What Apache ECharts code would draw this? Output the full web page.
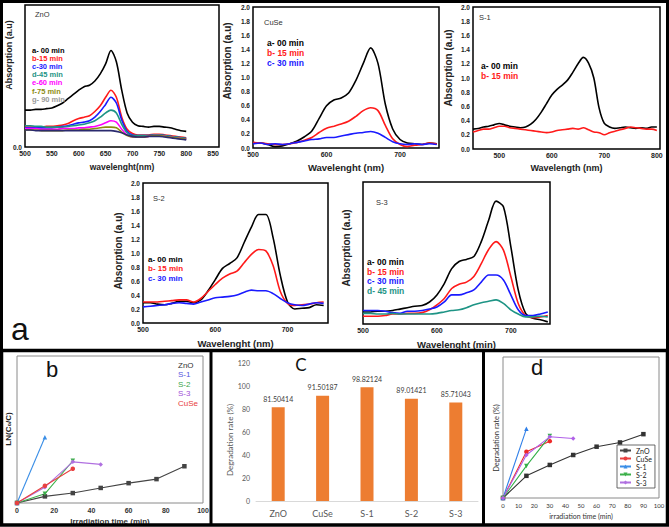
<!DOCTYPE html>
<html><head><meta charset="utf-8">
<script src="https://cdn.jsdelivr.net/npm/echarts@6/dist/echarts.min.js"></script>
<style>html,body{margin:0;padding:0;background:#fff}#c{width:669px;height:527px}</style>
</head><body><div id="c"></div>
<script>
// ---------- DATA ----------
const wl500_800 = [500,510,520,530,540,550,560,570,580,590,600,610,620,630,640,650,660,670,680,690,700,710,720,730,740,750,760,770,780,790,800];
const wl500_750 = [500,510,520,530,540,550,560,570,580,590,600,610,620,630,640,650,660,670,680,690,700,710,720,730,740,750];
const wl450_800 = [450,460,470,480,490,500,510,520,530,540,550,560,570,580,590,600,610,620,630,640,650,660,670,680,690,700,710,720,730,740,750,760,770,780,790,800];

const spectraLabels = ['a- 00 min','b-15 min','c-30 min','d-45 min','e-60 min','f-75 min','g- 90 min'];
const znoA = [0.52,0.52,0.53,0.53,0.54,0.55,0.58,0.62,0.68,0.74,0.80,0.85,0.87,0.93,1.03,1.17,1.36,1.20,0.80,0.48,0.35,0.30,0.29,0.28,0.29,0.29,0.28,0.27,0.25,0.23,0.22];
const znoB = [0.28,0.28,0.28,0.28,0.29,0.29,0.30,0.31,0.33,0.37,0.40,0.42,0.44,0.50,0.58,0.70,0.80,0.70,0.42,0.25,0.19,0.17,0.17,0.17,0.18,0.18,0.17,0.16,0.15,0.14,0.13];
const znoC = [0.27,0.27,0.27,0.27,0.27,0.27,0.28,0.29,0.30,0.32,0.34,0.35,0.37,0.42,0.50,0.60,0.70,0.62,0.38,0.22,0.17,0.16,0.16,0.16,0.17,0.17,0.16,0.15,0.14,0.13,0.12];
const znoD = [0.30,0.30,0.29,0.29,0.28,0.28,0.28,0.28,0.29,0.30,0.31,0.32,0.34,0.37,0.42,0.48,0.52,0.48,0.32,0.20,0.16,0.16,0.16,0.16,0.17,0.17,0.16,0.15,0.14,0.13,0.12];
const znoE = [0.26,0.26,0.26,0.25,0.25,0.25,0.25,0.26,0.26,0.26,0.27,0.27,0.28,0.29,0.31,0.34,0.37,0.35,0.25,0.17,0.14,0.14,0.14,0.15,0.16,0.16,0.15,0.14,0.13,0.12,0.11];
const znoF = [0.24,0.24,0.24,0.23,0.23,0.23,0.23,0.23,0.24,0.24,0.24,0.25,0.25,0.26,0.27,0.28,0.28,0.27,0.21,0.16,0.14,0.14,0.14,0.15,0.16,0.16,0.15,0.14,0.13,0.12,0.11];
const znoG = [0.24,0.24,0.23,0.23,0.23,0.23,0.23,0.23,0.23,0.23,0.23,0.23,0.23,0.23,0.23,0.23,0.23,0.22,0.20,0.17,0.15,0.14,0.14,0.15,0.15,0.15,0.14,0.13,0.12,0.11,0.10];

const cuseA = [0.07,0.07,0.05,0.02,0.03,0.06,0.10,0.16,0.24,0.42,0.60,0.68,0.71,0.78,0.96,1.20,1.42,1.20,0.62,0.27,0.12,0.07,0.06,0.05,0.07,0.06];
const cuseB = [0.08,0.07,0.06,0.05,0.05,0.06,0.08,0.11,0.15,0.22,0.28,0.31,0.34,0.38,0.45,0.53,0.57,0.53,0.32,0.13,0.05,0.02,0.04,0.05,0.07,0.06];
const cuseC = [0.06,0.07,0.05,0.06,0.05,0.06,0.08,0.10,0.12,0.13,0.15,0.15,0.17,0.19,0.21,0.22,0.235,0.21,0.15,0.09,0.06,0.05,0.06,0.05,0.06,0.05];

const s1A = [0.28,0.29,0.31,0.32,0.34,0.36,0.34,0.32,0.31,0.30,0.31,0.35,0.42,0.52,0.64,0.76,0.84,0.90,0.97,1.08,1.20,1.29,1.21,1.00,0.58,0.36,0.31,0.29,0.30,0.31,0.30,0.29,0.30,0.29,0.31,0.31];
const s1B = [0.24,0.26,0.28,0.28,0.30,0.32,0.32,0.30,0.29,0.28,0.27,0.26,0.25,0.24,0.23,0.24,0.26,0.27,0.28,0.29,0.28,0.30,0.27,0.24,0.23,0.20,0.23,0.25,0.27,0.29,0.31,0.30,0.29,0.28,0.28,0.26];

const s2A = [0.29,0.29,0.27,0.26,0.28,0.31,0.31,0.29,0.33,0.46,0.62,0.78,0.85,0.93,1.15,1.37,1.55,1.55,1.22,0.68,0.30,0.20,0.21,0.22,0.26,0.25];
const s2B = [0.30,0.30,0.30,0.31,0.32,0.33,0.33,0.30,0.35,0.45,0.55,0.64,0.70,0.74,0.86,0.98,1.05,1.03,0.82,0.45,0.28,0.25,0.26,0.27,0.29,0.30];
const s2C = [0.23,0.24,0.25,0.26,0.28,0.29,0.28,0.27,0.30,0.33,0.36,0.37,0.38,0.40,0.44,0.47,0.46,0.46,0.42,0.35,0.29,0.26,0.25,0.27,0.29,0.28];

const s3A = [0.17,0.17,0.18,0.18,0.19,0.21,0.23,0.25,0.26,0.31,0.41,0.57,0.78,0.88,0.91,0.95,1.16,1.46,1.73,1.65,1.09,0.48,0.15,0.08,0.06,0.03];
const s3B = [0.11,0.11,0.11,0.12,0.14,0.14,0.15,0.15,0.16,0.20,0.27,0.36,0.50,0.56,0.59,0.67,0.85,1.05,1.16,1.04,0.67,0.29,0.12,0.09,0.10,0.12];
const s3C = [0.19,0.19,0.19,0.18,0.16,0.15,0.18,0.18,0.19,0.21,0.24,0.31,0.41,0.41,0.44,0.48,0.59,0.69,0.69,0.62,0.41,0.20,0.12,0.12,0.14,0.17];
const s3D = [0.15,0.15,0.14,0.14,0.15,0.14,0.14,0.14,0.14,0.14,0.15,0.17,0.19,0.20,0.23,0.27,0.30,0.32,0.34,0.29,0.20,0.14,0.10,0.10,0.11,0.10];

const times = [0,15,30,45,60,75,90];
const lnZnO = [0,0.18,0.27,0.41,0.54,0.65,1.00];
const lnS1 = [0,1.79];
const lnS2 = [0,0.25,1.15];
const lnS3 = [0,0.43,1.12,1.05];
const lnCuSe = [0,0.47,0.93];

const samples = ['ZnO','CuSe','S-1','S-2','S-3'];
const rates = [81.50414,91.50187,98.82124,89.01421,85.71043];

const degZnO = [0,28.3,42.2,54.9,65.5,70.9,81.5];
const degCuSe = [0,59.1,72.6];
const degS1 = [0,88.3];
const degS2 = [0,41.0,79.0];
const degS3 = [0,54.9,78.1,76.0];

// ---------- BUILD ----------
const FONT = '"Liberation Sans", Arial, sans-serif';
const CAL = 'Lato, "Open Sans", sans-serif';
const grids=[], xAxes=[], yAxes=[], series=[], graphics=[];

function gtext(x,y,text,opt){
  opt = opt||{};
  graphics.push({type:'text', x:x, y:y, rotation:opt.rot||0, z:50,
    style:{text:text, fill:opt.color||'#111', font:(opt.weight||'normal')+' '+(opt.size||8)+'px '+(opt.family||FONT),
      align:opt.align||'center', verticalAlign:'middle', textAlign:opt.align||'center', textVerticalAlign:'middle'}});
}

function spectraPanel(p){
  const gi = grids.length;
  grids.push({left:p.box[0], top:p.box[1], width:p.box[2], height:p.box[3], show:true, borderColor:'#000', borderWidth:1.5, backgroundColor:'#fff'});
  xAxes.push({gridIndex:gi, type:'value', min:p.xmin, max:p.xmax, interval:p.xint,
    splitLine:{show:false}, axisLine:{show:false}, axisTick:{show:false},
    axisLabel:{fontSize:7, fontWeight:'bold', color:'#222', margin:3, fontFamily:FONT, formatter: v => p.xShow(v) ? String(v) : ''},
    name:p.xName, nameLocation:'middle', nameGap:p.nameGap,
    nameTextStyle:{fontSize:p.nameFs, fontWeight:'bold', color:'#222', fontFamily:FONT}});
  yAxes.push({gridIndex:gi, type:'value', min:0, max:2, interval:0.2,
    splitLine:{show:false}, axisLine:{show:false}, axisTick:{show:false},
    axisLabel:{show:p.yLab!=='none', fontSize:6.5, fontWeight:'bold', color:'#222', margin:3, fontFamily:FONT,
      formatter: v => p.yLab==='zero' ? (Math.abs(v)<1e-9 ? '0.0' : '') : v.toFixed(1)}});
  p.curves.forEach((c,k) => {
    series.push({type:'line', name:p.title+' '+c.label, xAxisIndex:gi, yAxisIndex:gi, showSymbol:false, smooth:0.3,
      silent:true, lineStyle:{color:c.color, width:1.6}, itemStyle:{color:c.color},
      data:p.wl.map((w,i)=>[w,c.vals[i]])});
    gtext(p.leg[0], p.leg[1]+k*p.leg[2], c.label, {align:'left', weight:'bold', size:p.legFs, color:c.tcolor||c.color});
  });
  gtext(p.tpos[0], p.tpos[1], p.title, {align:'left', size:7.5, color:'#333'});
  gtext(p.ypos[0], p.ypos[1], 'Absorption (a.u)', {rot:Math.PI/2, weight:'bold', size:p.yFs, color:'#222'});
}

const BLK='#000', RED='#ff1a1a', BLU='#1a1aff', TEAL='#1e9485', MAG='#ff00ff', OLV='#8c8c10', NAVY='#2a2a6e', GRY='#9a9a9a';

spectraPanel({title:'ZnO', box:[25,5,194,142], xmin:500, xmax:861, xint:50, xShow:v=>v%50===0&&v<=850,
  xName:'wavelenght(nm)', nameGap:15, nameFs:8.5, yLab:'zero', wl:wl500_800,
  leg:[32,50,8.2], legFs:7.5, tpos:[35,14], ypos:[9,55], yFs:9,
  curves:[{label:spectraLabels[0],vals:znoA,color:BLK},{label:spectraLabels[1],vals:znoB,color:RED},
          {label:spectraLabels[2],vals:znoC,color:BLU},{label:spectraLabels[3],vals:znoD,color:TEAL},
          {label:spectraLabels[4],vals:znoE,color:MAG},{label:spectraLabels[5],vals:znoF,color:OLV},
          {label:spectraLabels[6],vals:znoG,color:NAVY,tcolor:GRY}]});

spectraPanel({title:'CuSe', box:[253,7,186,141], xmin:500, xmax:753, xint:100, xShow:v=>v%100===0,
  xName:'Wavelenght (nm)', nameGap:14, nameFs:9.5, yLab:'all', wl:wl500_750,
  leg:[267,43,10], legFs:8.5, tpos:[264,22], ypos:[227,61], yFs:10,
  curves:[{label:'a- 00 min',vals:cuseA,color:BLK},{label:'b- 15 min',vals:cuseB,color:RED},{label:'c- 30 min',vals:cuseC,color:BLU}]});

spectraPanel({title:'S-1', box:[473,7,187,142], xmin:450, xmax:806, xint:50, xShow:v=>v%100===0,
  xName:'Wavelength (nm)', nameGap:14, nameFs:9, yLab:'all', wl:wl450_800,
  leg:[481,66,10], legFs:8.5, tpos:[479,17], ypos:[448,68], yFs:10,
  curves:[{label:'a- 00 min',vals:s1A,color:BLK},{label:'b- 15 min',vals:s1B,color:RED}]});

spectraPanel({title:'S-2', box:[143,183,185,140], xmin:500, xmax:756, xint:100, xShow:v=>v%100===0,
  xName:'Wavelenght (nm)', nameGap:15, nameFs:9.5, yLab:'all', wl:wl500_750,
  leg:[148,259,9.5], legFs:8, tpos:[153,198], ypos:[118,251], yFs:10,
  curves:[{label:'a- 00 min',vals:s2A,color:BLK},{label:'b- 15 min',vals:s2B,color:RED},{label:'c- 30 min',vals:s2C,color:BLU}]});

spectraPanel({title:'S-3', box:[363,182,187,142], xmin:500, xmax:753, xint:100, xShow:v=>v%100===0,
  xName:'Wavelenght (min)', nameGap:15, nameFs:9.5, yLab:'none', wl:wl500_750,
  leg:[367,262,9.7], legFs:8.5, tpos:[376,202], ypos:[346,248], yFs:10,
  curves:[{label:'a- 00 min',vals:s3A,color:BLK},{label:'b- 15 min',vals:s3B,color:RED},{label:'c- 30 min',vals:s3C,color:BLU},{label:'d- 45 min',vals:s3D,color:TEAL}]});

// ---- panel b (kinetics) ----
const kCol = {'ZnO':'#444444','S-1':'#3a8ee6','S-2':'#3cb04a','S-3':'#b070e0','CuSe':'#e84040'};
const kSym = {'ZnO':['rect',0],'S-1':['triangle',0],'S-2':['triangle',180],'S-3':['diamond',0],'CuSe':['circle',0]};
let gi = grids.length;
grids.push({left:17, top:356, width:186, height:147, show:true, borderColor:'#8a8a8a', borderWidth:1});
xAxes.push({gridIndex:gi, type:'value', min:0, max:100, interval:20, splitLine:{show:false}, axisLine:{show:false}, axisTick:{show:false},
  axisLabel:{fontSize:7, fontWeight:'bold', color:'#333', margin:4, fontFamily:FONT},
  name:'Irradiation time (min)', nameLocation:'middle', nameGap:14, nameTextStyle:{fontSize:8, fontWeight:'bold', color:'#333', fontFamily:FONT}});
yAxes.push({gridIndex:gi, type:'value', min:0, max:4, splitLine:{show:false}, axisLine:{show:false}, axisTick:{show:false}, axisLabel:{show:false}});
[['ZnO',lnZnO],['S-1',lnS1],['S-2',lnS2],['S-3',lnS3],['CuSe',lnCuSe]].forEach(([n,v])=>{
  series.push({type:'line', name:n, xAxisIndex:gi, yAxisIndex:gi, symbol:kSym[n][0], symbolRotate:kSym[n][1], symbolSize:4.5,
    lineStyle:{color:kCol[n], width:1.1}, itemStyle:{color:kCol[n]}, data:v.map((y,i)=>[times[i],y])});
});
const bLegCol = {'ZnO':'#333','S-1':'#5555e0','S-2':'#3aa64a','S-3':'#a050d8','CuSe':'#e83c3c'};
['ZnO','S-1','S-2','S-3','CuSe'].forEach((n,k)=> gtext(178, 365+k*9.5, n, {align:'left', size:8, color:bLegCol[n]}));
gtext(8.5, 429, 'LN(C\u2080/C)', {rot:Math.PI/2, weight:'bold', size:8, color:'#222'});
gtext(52, 369, 'b', {size:22, color:'#111'});

// ---- panel c (bars) ----
gi = grids.length;
grids.push({left:256, top:363, width:222, height:138});
xAxes.push({gridIndex:gi, type:'category', data:samples, axisLine:{lineStyle:{color:'#d9d9d9'}}, axisTick:{show:false},
  axisLabel:{fontSize:9, color:'#595959', margin:8, fontFamily:CAL}});
yAxes.push({gridIndex:gi, type:'value', min:0, max:120, interval:20, splitLine:{show:false}, axisLine:{show:false}, axisTick:{show:false},
  axisLabel:{fontSize:7, color:'#595959', margin:6, fontFamily:CAL}});
series.push({type:'bar', name:'Degradation rate', xAxisIndex:gi, yAxisIndex:gi, data:rates, barWidth:13,
  itemStyle:{color:'#ed7d31'}, label:{show:true, position:'top', fontSize:7, color:'#404040', distance:5, fontFamily:CAL}});
gtext(230, 440, 'Degradation rate (%)', {rot:Math.PI/2, size:8, color:'#595959', family:CAL});
gtext(301, 364, 'C', {size:17, color:'#111', family:CAL});

// ---- panel d (degradation vs time) ----
gi = grids.length;
grids.push({left:503, top:357, width:156, height:141, show:true, borderColor:'#8a8a8a', borderWidth:1});
xAxes.push({gridIndex:gi, type:'value', min:0, max:100, interval:10, splitLine:{show:false},
  axisLine:{show:false}, axisTick:{show:false},
  axisLabel:{fontSize:6, color:'#333', margin:4, fontFamily:CAL},
  name:'irradiation time (min)', nameLocation:'middle', nameGap:14, nameTextStyle:{fontSize:7, color:'#333', fontFamily:CAL}});
yAxes.push({gridIndex:gi, type:'value', min:0, max:180, splitLine:{show:false}, axisLine:{show:false}, axisTick:{show:false}, axisLabel:{show:false}});
const dCol = {'ZnO':'#333333','CuSe':'#ee2a2a','S-1':'#2f7fe8','S-2':'#33b04a','S-3':'#b060e8'};
[['ZnO',degZnO],['CuSe',degCuSe],['S-1',degS1],['S-2',degS2],['S-3',degS3]].forEach(([n,v])=>{
  series.push({type:'line', name:n, xAxisIndex:gi, yAxisIndex:gi, symbol:kSym[n][0], symbolRotate:kSym[n][1], symbolSize:4.5,
    lineStyle:{color:dCol[n], width:1.1}, itemStyle:{color:dCol[n]}, data:v.map((y,i)=>[times[i],y])});
});
gtext(496, 438, 'Degradation rate (%)', {rot:Math.PI/2, size:7.5, color:'#333', family:CAL});
gtext(537, 367, 'd', {size:22, color:'#111'});

// ---- frames & big label ----
gtext(20, 329, 'a', {size:32, color:'#111'});
graphics.push({type:'rect', z:60, shape:{x:1.5,y:1.5,width:666,height:349}, style:{fill:null, stroke:'#000', lineWidth:3}});
graphics.push({type:'rect', z:60, shape:{x:1.5,y:350.5,width:666,height:174.5}, style:{fill:null, stroke:'#000', lineWidth:3.5}});
graphics.push({type:'line', z:60, shape:{x1:211,y1:350,x2:211,y2:526}, style:{stroke:'#000', lineWidth:3}});
graphics.push({type:'line', z:60, shape:{x1:483.5,y1:350,x2:483.5,y2:526}, style:{stroke:'#000', lineWidth:3}});

const chart = echarts.init(document.getElementById('c'), null, {renderer:'svg'});
chart.setOption({
  animation:false,
  backgroundColor:'#fff',
  grid:grids, xAxis:xAxes, yAxis:yAxes, series:series, graphic:graphics,
  legend:{data:['ZnO','CuSe','S-1','S-2','S-3'], orient:'vertical', left:617, top:445, itemWidth:11, itemHeight:5, itemGap:1,
    padding:[2,3,2,2], borderColor:'#444', borderWidth:0.8, selectedMode:false,
    textStyle:{fontSize:7, color:'#222', fontFamily:CAL}}
});
</script></body></html>
